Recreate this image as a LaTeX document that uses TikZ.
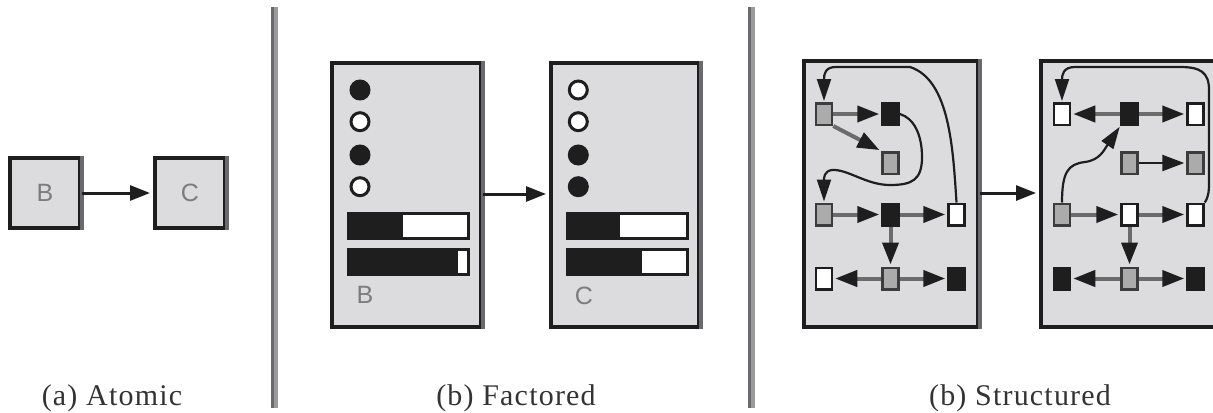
\documentclass[tikz,border=0pt]{standalone}
\usepackage{fontspec}
\setmainfont{Liberation Serif}
\newfontfamily\lettersans{Liberation Sans}
\newfontfamily\capfont[LetterSpace=4]{Liberation Serif}
\usetikzlibrary{arrows.meta}

\definecolor{panel}{HTML}{DCDCDE}
\definecolor{ink}{HTML}{1E1E1E}
\definecolor{edgegray}{HTML}{6B6B6B}
\definecolor{nodegray}{HTML}{ABABAB}
\definecolor{nodeline}{HTML}{3C3C3C}
\definecolor{ruledark}{HTML}{6A6A6E}
\definecolor{rulelight}{HTML}{9A9A9C}
\definecolor{lettergray}{HTML}{7C7C7C}
\definecolor{captext}{HTML}{333333}

\tikzset{
  panelbox/.style={draw=ink, fill=panel, line width=2pt, inner sep=0pt},
  panelshade/.style={draw=ruledark, line width=2pt},
  letter/.style={font=\lettersans\fontsize{12.5}{14}\selectfont, text=lettergray, inner sep=0pt},
  caption/.style={font=\capfont\fontsize{15}{18}\selectfont, text=captext, anchor=base, inner sep=0pt},
  bigarrow/.style={draw=ink, line width=1.5pt, -{Triangle[length=10pt,width=7.5pt]}, shorten >=1.5pt},
  dot/.style={circle, draw=ink, line width=1.5pt, minimum size=9pt, inner sep=0pt},
  dotset/.style={dot, fill=ink},
  dotclear/.style={dot, fill=white},
  obj/.style={rectangle, line width=1.25pt, minimum width=8pt, minimum height=10.75pt, inner sep=0pt},
  objgray/.style={obj, draw=nodeline, fill=nodegray},
  objwhite/.style={obj, draw=ink, fill=white},
  objblack/.style={obj, draw=ink, fill=ink},
  rel/.style={draw=edgegray, line width=2pt, -{Triangle[length=11pt,width=8pt,color=ink]}, shorten >=1pt},
  relink/.style={draw=ink, line width=1.2pt, -{Triangle[length=11pt,width=8pt]}, shorten >=1pt},
  link/.style={draw=ink, line width=1.1pt, -{Triangle[length=11pt,width=7pt]}, shorten >=0.5pt},
}

% a horizontal level indicator: left end, right end, end of the dark part, top
\newcommand\levelbar[4]{%
  \fill[white] (#1,#4) rectangle (#2,#4+25);
  \fill[ink] (#1,#4) rectangle (#3,#4+25);
  \draw[ink, line width=1.5pt] (#1,#4) rectangle (#2,#4+25);
}

\begin{document}
\begin{tikzpicture}[x=0.5pt, y=-0.5pt]
\useasboundingbox (0,0) rectangle (1213,412);
\clip (0,0) rectangle (1213,412);

% separators between the three panels
\foreach \sx in {274,751} {
  \draw[ruledark, line width=1.75pt] (\sx-1.75,7) -- (\sx-1.75,408);
  \draw[rulelight, line width=1.75pt] (\sx+1.75,7) -- (\sx+1.75,408);
}

% ---------- atomic ----------
\node[panelbox, minimum width=35pt, minimum height=35pt] (atomB) at (45,193) {};
\node[panelbox, minimum width=35pt, minimum height=35pt] (atomC) at (190,193) {};
\draw[panelshade] (atomB.north east) -- (atomB.south east);
\draw[panelshade] (atomC.north east) -- (atomC.south east);
\node[letter] (atomBl) at (atomB) {B};
\node[letter] (atomCl) at (atomC) {C};
\draw[bigarrow] (atomB) -- (atomC);
\node[caption] (capA) at (112,405) {(a) Atomic};

% ---------- factored ----------
\node[panelbox, minimum width=74.5pt, minimum height=132pt] (facB) at (406.5,195) {};
\node[panelbox, minimum width=74pt, minimum height=132pt] (facC) at (625,195) {};
\draw[panelshade] (facB.north east) -- (facB.south east);
\draw[panelshade] (facC.north east) -- (facC.south east);
\draw[bigarrow] (facB.east |- 0,194) -- (facC.west |- 0,194);

\node[dotset]   (b1) at (360,90) {};
\node[dotclear] (b2) at (360,121.7) {};
\node[dotset]   (b3) at (360,155) {};
\node[dotclear] (b4) at (360,186.7) {};
\levelbar{348}{468}{403}{213}
\levelbar{348}{468}{458}{249}
\node[letter] (facBl) at (365,295) {B};

\node[dotclear] (c1) at (578.3,90) {};
\node[dotclear] (c2) at (578.3,121.7) {};
\node[dotset]   (c3) at (578.3,155) {};
\node[dotset]   (c4) at (578.3,186.7) {};
\levelbar{567}{687}{620}{213}
\levelbar{567}{687}{642}{249}
\node[letter] (facCl) at (584,296) {C};

\node[caption] (capB) at (516,405) {(b) Factored};

% ---------- structured ----------
\node[panelbox, minimum width=87pt, minimum height=133pt] (strA) at (891,194) {};
\node[panelbox, minimum width=87pt, minimum height=133pt] (strB) at (1128,194) {};
\draw[panelshade] (strA.north east) -- (strA.south east);
\draw[bigarrow] (strA.east |- 0,193) -- (strB.west |- 0,193);

% first state
\node[objgray]  (n11) at (824,114) {};
\node[objblack] (n12) at (890.5,114) {};
\node[objgray]  (n22) at (890.5,163) {};
\node[objgray]  (n31) at (824,214.5) {};
\node[objblack] (n32) at (890.5,214.5) {};
\node[objwhite] (n33) at (956.5,214.5) {};
\node[objwhite] (n41) at (824,278.5) {};
\node[objgray]  (n42) at (890.5,278.5) {};
\node[objblack] (n43) at (956.5,278.5) {};

\draw[rel] (n11) -- (n12);
\draw[rel] (n11.south east) -- (n22.north west);
\draw[rel] (n31) -- (n32);
\draw[rel] (n32) -- (n33);
\draw[rel] (n32) -- (n42);
\draw[rel] (n42) -- (n41);
\draw[rel] (n42) -- (n43);

\draw[link] (n12.east) .. controls (914,118) and (922,135) .. (922,157)
  .. controls (922,180) and (912,185) .. (890,185)
  .. controls (866,185) and (848,169) .. (832,170)
  .. controls (824,171) and (824,178) .. (n31.north);
\draw[link] (n33.north) .. controls (953,150) and (950,80) .. (910,67)
  -- (836,67) .. controls (825,67) and (824,74) .. (n11.north);

% second state
\node[objwhite] (m11) at (1062,114) {};
\node[objblack] (m12) at (1129.5,114) {};
\node[objwhite] (m13) at (1195.5,114) {};
\node[objgray]  (m22) at (1129.5,163) {};
\node[objgray]  (m23) at (1195.5,163) {};
\node[objgray]  (m31) at (1062,214.5) {};
\node[objwhite] (m32) at (1129.5,214.5) {};
\node[objwhite] (m33) at (1195.5,214.5) {};
\node[objblack] (m41) at (1062,278.5) {};
\node[objgray]  (m42) at (1129.5,278.5) {};
\node[objblack] (m43) at (1195.5,278.5) {};

\draw[rel] (m12) -- (m11);
\draw[rel] (m12) -- (m13);
\draw[relink] (m22) -- (m23);
\draw[rel] (m31) -- (m32);
\draw[rel] (m32) -- (m33);
\draw[rel] (m32) -- (m42);
\draw[rel] (m42) -- (m41);
\draw[rel] (m42) -- (m43);

\draw[link] (m31.north) .. controls (1062,172) and (1068,164) .. (1085,162)
  .. controls (1100,160) and (1104,150) .. (m12.south west);
\draw[link] (m33.north east) .. controls (1209,196) and (1209,190) .. (1209,180)
  -- (1209,90) .. controls (1209,72) and (1200,67) .. (1180,67)
  -- (1075,67) .. controls (1063,67) and (1062,75) .. (m11.north);

\node[caption] (capC) at (1020,405) {(b) Structured};
\end{tikzpicture}
\end{document}
